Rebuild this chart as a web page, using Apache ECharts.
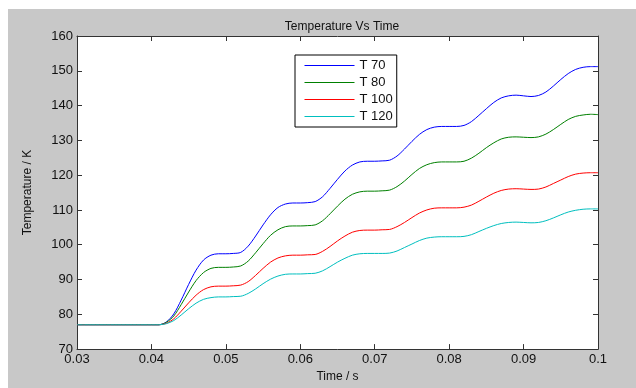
<!DOCTYPE html>
<html>
<head>
<meta charset="utf-8">
<script src="https://cdn.jsdelivr.net/npm/echarts@6/dist/echarts.min.js"></script>
<style>
html,body{margin:0;padding:0;background:#fff;}
#bg{position:absolute;left:8px;top:9px;width:628px;height:379px;background:#c8c8c8;}
#chart{position:absolute;left:0;top:0;width:636px;height:388px;}
</style>
</head>
<body>
<div id="bg"></div>
<div id="chart"></div>
<script>
const titleText = "Temperature Vs Time";
const xName = "Time / s";
const yName = "Temperature / K";
const seriesNames = ["T 70", "T 80", "T 100", "T 120"];

const time = [0.030,0.031,0.032,0.033,0.034,0.035,0.036,0.037,0.038,0.039,
0.040,0.041,0.042,0.043,0.044,0.045,0.046,0.047,0.048,0.049,
0.050,0.051,0.052,0.053,0.054,0.055,0.056,0.057,0.058,0.059,
0.060,0.061,0.062,0.063,0.064,0.065,0.066,0.067,0.068,0.069,
0.070,0.071,0.072,0.073,0.074,0.075,0.076,0.077,0.078,0.079,
0.080,0.081,0.082,0.083,0.084,0.085,0.086,0.087,0.088,0.089,
0.090,0.091,0.092,0.093,0.094,0.095,0.096,0.097,0.098,0.099,0.100];

const t70 = [77,77,77,77,77,77,77,77,77,77,
77,77,77.8,80.1,84.1,88.6,92.7,95.6,97.0,97.4,
97.4,97.5,97.8,99.6,102.5,105.7,108.6,110.7,111.7,112.0,
112.0,112.1,112.4,113.8,116.2,118.8,121.2,122.9,123.8,124.0,
124.0,124.1,124.3,125.5,127.5,129.7,131.7,133.1,133.8,134.0,
134.0,134.0,134.3,135.4,137.2,139.1,140.9,142.2,142.8,143.0,
142.8,142.6,142.9,143.9,145.6,147.5,149.2,150.4,151.0,151.2,151.2];

const t80 = [77,77,77,77,77,77,77,77,77,77,
77,77,77.7,79.5,82.8,86.4,89.7,92.0,93.2,93.5,
93.5,93.6,93.9,95.3,97.7,100.3,102.7,104.3,105.2,105.4,
105.4,105.5,105.7,106.9,108.9,111.1,113.1,114.5,115.2,115.4,
115.4,115.5,115.7,116.7,118.3,120.2,121.9,123.0,123.6,123.8,
123.8,123.8,124.0,124.9,126.3,127.9,129.3,130.4,130.9,131.0,
130.9,130.8,131.0,131.8,133.1,134.6,136.0,136.9,137.3,137.5,137.4];

const t100 = [77,77,77,77,77,77,77,77,77,77,
77,77,77.4,78.7,80.9,83.3,85.5,87.1,87.9,88.1,
88.1,88.2,88.4,89.4,91.2,93.2,95.0,96.2,96.8,97.0,
97.0,97.1,97.2,98.1,99.5,101.1,102.5,103.6,104.1,104.2,
104.2,104.3,104.4,105.2,106.4,107.8,109.1,110.0,110.5,110.6,
110.6,110.6,110.8,111.4,112.5,113.7,114.8,115.6,116.0,116.1,
116.0,115.9,116.0,116.6,117.6,118.6,119.6,120.3,120.6,120.7,120.7];

const t120 = [77,77,77,77,77,77,77,77,77,77,
77,77,77.3,78.2,79.8,81.6,83.2,84.3,84.8,85.0,
85.0,85.1,85.2,86.0,87.3,88.8,90.1,91.0,91.5,91.6,
91.6,91.7,91.8,92.5,93.7,95.0,96.1,97.0,97.4,97.5,
97.5,97.5,97.6,98.2,99.2,100.2,101.2,101.9,102.2,102.3,
102.3,102.3,102.4,102.9,103.8,104.7,105.5,106.1,106.4,106.5,
106.4,106.3,106.4,106.9,107.7,108.6,109.4,109.9,110.2,110.3,110.3];

const colors = ["#0000ff", "#008000", "#ff0000", "#00bfbf"];
const allValues = [t70, t80, t100, t120];

const font = "Liberation Sans, Arial, sans-serif";
const axisColor = "#333";

const chart = echarts.init(document.getElementById('chart'), null, {renderer: 'canvas'});

function pairs(vals) { return time.map((t, i) => [t, vals[i]]); }

const xBase = {
  type: 'value', min: 0.03, max: 0.1, interval: 0.01,
  axisLine: {show: true, onZero: false, lineStyle: {color: axisColor, width: 1}},
  axisTick: {show: true, inside: true, length: 5, lineStyle: {color: axisColor}},
  splitLine: {show: false}
};
const yBase = {
  type: 'value', min: 70, max: 160, interval: 10,
  axisLine: {show: true, onZero: false, lineStyle: {color: axisColor, width: 1}},
  axisTick: {show: true, inside: true, length: 5, lineStyle: {color: axisColor}},
  splitLine: {show: false}
};

chart.setOption({
  backgroundColor: 'transparent',
  animation: false,
  title: {
    text: titleText, left: 337, top: 16, textAlign: 'center',
    textStyle: {fontFamily: font, fontSize: 12, fontWeight: 'normal', color: '#111'}
  },
  grid: {left: 77, right: 38, top: 36, bottom: 31, show: true, backgroundColor: '#fff', borderWidth: 0},
  legend: {
    orient: 'vertical', left: 295, top: 55,
    data: seriesNames.map((n, i) => ({
      name: n,
      itemStyle: {opacity: 0},
      lineStyle: {color: colors[i], width: 1, opacity: 1}
    })),
    itemWidth: 50, itemHeight: 14, itemGap: 4,
    padding: [4, 4, 4, 9],
    backgroundColor: '#fff', borderColor: '#000', borderWidth: 1, borderRadius: 0,
    textStyle: {fontFamily: font, fontSize: 13, color: '#111'}
  },
  xAxis: [
    Object.assign({}, xBase, {
      position: 'bottom', name: xName, nameLocation: 'middle', nameGap: 19,
      nameTextStyle: {fontFamily: font, fontSize: 12, color: '#111'},
      axisLabel: {fontFamily: font, fontSize: 13, color: '#111', margin: 4,
        formatter: v => String(+v.toFixed(2))}
    }),
    Object.assign({}, xBase, {position: 'top', axisLabel: {show: false}})
  ],
  yAxis: [
    Object.assign({}, yBase, {
      position: 'left', name: yName, nameLocation: 'middle', nameGap: 43, nameRotate: 90,
      nameTextStyle: {fontFamily: font, fontSize: 12, color: '#111'},
      axisLabel: {fontFamily: font, fontSize: 13, color: '#111', margin: 4}
    }),
    Object.assign({}, yBase, {position: 'right', axisLabel: {show: false}})
  ],
  series: seriesNames.map((name, i) => ({
    name: name, type: 'line', xAxisIndex: 0, yAxisIndex: 0,
    data: pairs(allValues[i]),
    smooth: 0.3, symbol: 'none', showSymbol: false,
    lineStyle: {color: colors[i], width: 1},
    itemStyle: {color: colors[i]}
  }))
});
</script>
</body>
</html>
